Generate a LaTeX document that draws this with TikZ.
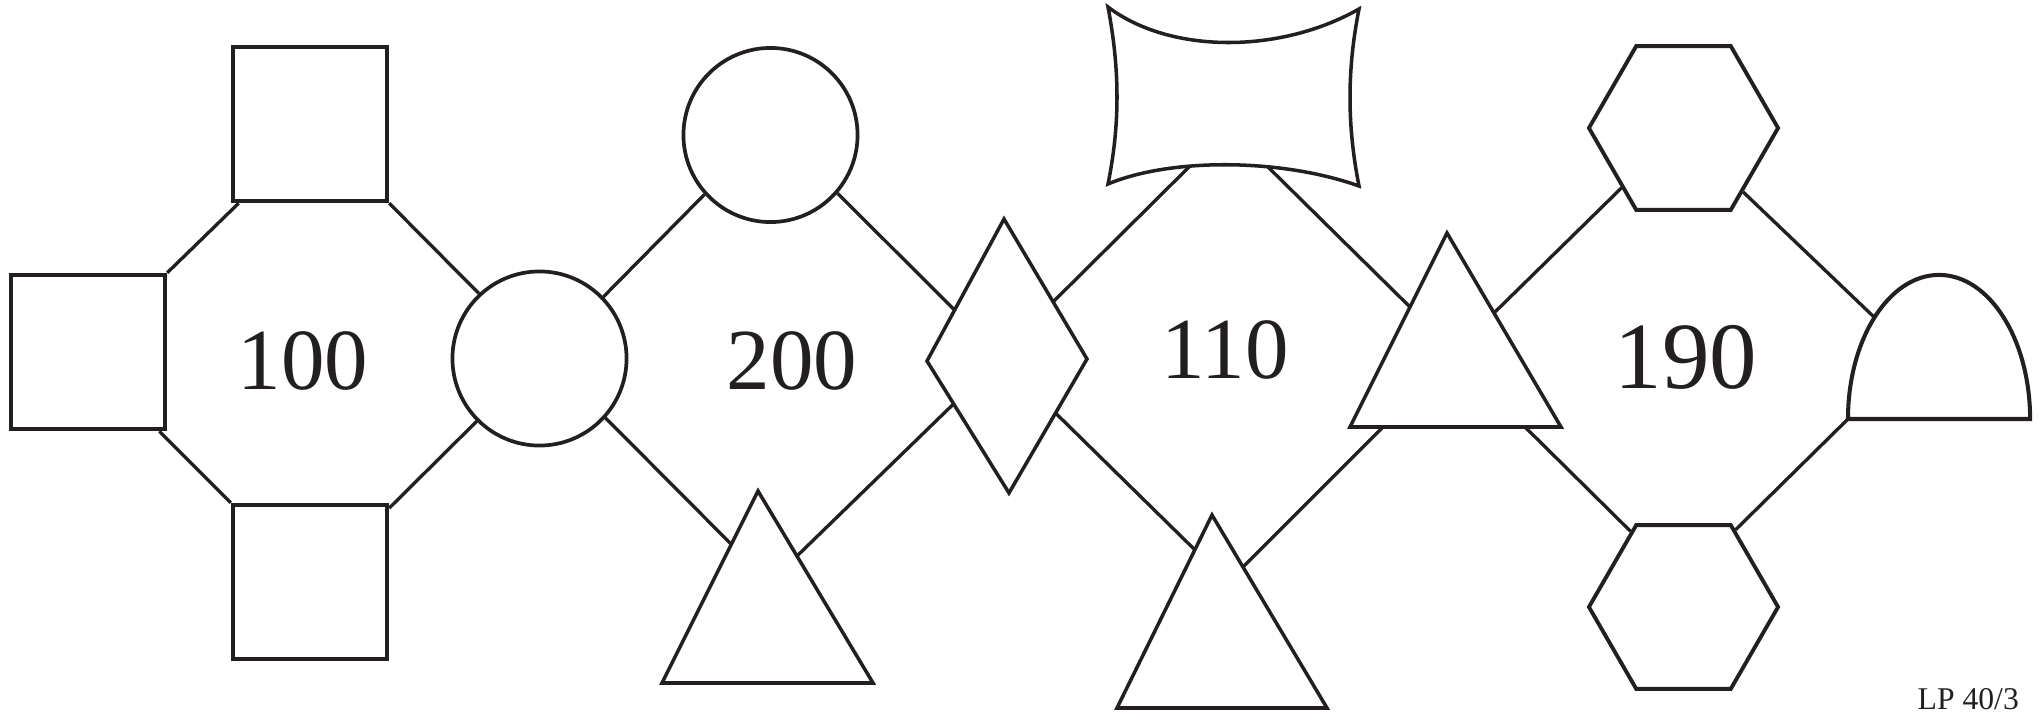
\documentclass[tikz,border=0pt]{standalone}
\usepackage{fontspec}
\setmainfont{Liberation Serif}
\usetikzlibrary{shapes.geometric}
\definecolor{ink}{RGB}{35,31,32}
\begin{document}
\begin{tikzpicture}[x=0.01cm,y=-0.01cm,line join=miter,
  sq/.style={draw=ink,line width=1.25pt,rectangle,minimum size=1.54cm,inner sep=0pt},
  circ/.style={draw=ink,line width=1.05pt,circle,minimum size=1.74cm,inner sep=0pt},
  hexa/.style={draw=ink,line width=1.1pt,regular polygon,regular polygon sides=6,minimum size=1.89cm,inner sep=0pt},
  outl/.style={draw=ink,line width=1pt},
  conn/.style={draw=ink,line width=0.95pt},
  num/.style={font=\fontsize{24.75pt}{28pt}\selectfont,inner sep=0pt,anchor=base,text=ink},
]
\useasboundingbox (0,0) rectangle (2038,712);

% nodes with standard shapes
\node[sq] (sqT) at (310,124) {};
\node[sq] (sqL) at (88,352) {};
\node[sq] (sqB) at (310,582) {};
\node[circ] (cA) at (539.5,358.5) {};
\node[circ] (cB) at (770.5,135) {};
\node[hexa] (hexT) at (1683.5,128) {};
\node[hexa] (hexB) at (1683.5,607) {};

% triangle A
\coordinate (tAa) at (758,491);
\coordinate (tAl) at (662,683);
\coordinate (tAr) at (873,683);
\draw[outl] (tAa) -- (tAl) -- (tAr) -- cycle;
\coordinate (tAw) at (731,544);
\coordinate (tAe) at (797,556);

% triangle B
\coordinate (tBa) at (1447,233);
\coordinate (tBl) at (1350,427);
\coordinate (tBr) at (1561,427);
\draw[outl] (tBa) -- (tBl) -- (tBr) -- cycle;
\coordinate (tBw) at (1410,307);
\coordinate (tBe) at (1494,313);
\coordinate (tBsw) at (1383,427);
\coordinate (tBse) at (1525,427);

% triangle C
\coordinate (tCa) at (1212,515);
\coordinate (tCl) at (1117,708);
\coordinate (tCr) at (1327,708);
\draw[outl] (tCa) -- (tCl) -- (tCr) -- cycle;
\coordinate (tCw) at (1195,550);
\coordinate (tCe) at (1243,567);

% diamond
\coordinate (dN) at (1004,219);
\coordinate (dE) at (1087,359);
\coordinate (dS) at (1009,493);
\coordinate (dW) at (927,361);
\draw[outl] (dN) -- (dE) -- (dS) -- (dW) -- cycle;
\coordinate (dNW) at (954.5,310);
\coordinate (dSW) at (953.5,404);
\coordinate (dNE) at (1053,302);
\coordinate (dSE) at (1055.5,413);

% concave rectangle
\coordinate (bTL) at (1108,7);
\coordinate (bTR) at (1359,9);
\coordinate (bBR) at (1359,186);
\coordinate (bBL) at (1108,184);
\draw[outl] (bTL) .. controls (1170,54) and (1280,54) .. (bTR)
  .. controls (1347,70) and (1347,125) .. (bBR)
  .. controls (1280,158) and (1170,158) .. (bBL)
  .. controls (1120,125) and (1120,70) .. (bTL) -- cycle;
\coordinate (bwL) at (1190,166);
\coordinate (bwR) at (1267,166);

% half ellipse
\coordinate (smSW) at (1848,419);
\draw[outl,line width=1.15pt] (smSW) arc[start angle=180,end angle=0,x radius=0.91cm,y radius=1.44cm] -- cycle;
\coordinate (smW) at (1874.5,317.5);

% connectors
\draw[conn] (sqT.228.5) -- (sqL.north east);
\draw[conn] (sqT.south east) -- (cA.133);
\draw[conn] (sqL.-48.5) -- (sqB.north west);
\draw[conn] (sqB.43) -- (cA.225.5);
\draw[conn] (cA.44) -- (cB.222.4);
\draw[conn] (cB.-41) -- (dNW);
\draw[conn] (cA.-42.7) -- (tAw);
\draw[conn] (tAe) -- (dSW);
\draw[conn] (dNE) -- (bwL);
\draw[conn] (bwR) -- (tBw);
\draw[conn] (dSE) -- (tCw);
\draw[conn] (tCe) -- (tBsw);
\draw[conn] (tBe) -- (hexT.224);
\draw[conn] (hexT.313.6) -- (smW);
\draw[conn] (tBse) -- (hexB.125.6);
\draw[conn] (hexB.56.8) -- (smSW);

% labels
\node[num] (n100) at (303,389) {100};
\node[num] (n200) at (792,389) {200};
\node[num] (n110) at (1225,378) {110};
\node[num,font=\fontsize{27pt}{32pt}\selectfont] (n190) at (1686,388) {190};
\node[font=\fontsize{9pt}{11pt}\selectfont,anchor=base west,inner sep=0pt,text=ink] (lp) at (1917,709) {LP 40/3};
\end{tikzpicture}
\end{document}
